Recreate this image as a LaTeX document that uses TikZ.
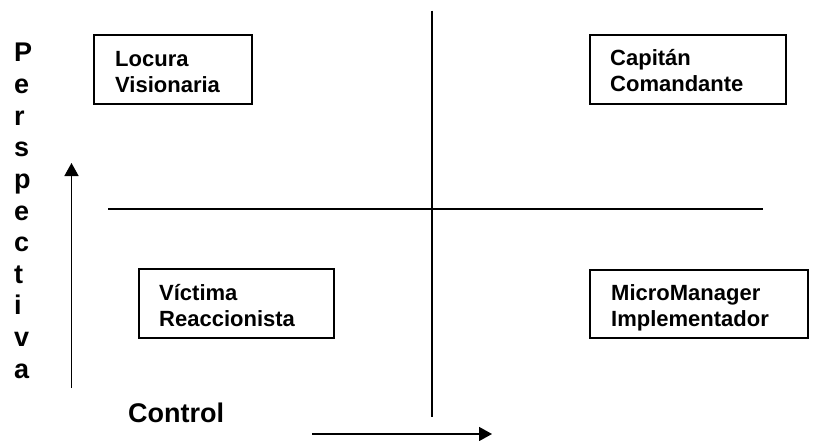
\documentclass[tikz,border=0pt]{standalone}
\usepackage{fontspec}
\setmainfont{Liberation Sans}
\usetikzlibrary{arrows.meta}
\tikzset{
  qbox/.style={draw, line width=1.6pt, rectangle, inner sep=0pt},
  qtext/.style={inner sep=0pt, align=left, font=\fontsize{22}{25.7}\selectfont\bfseries},
  axlabel/.style={inner sep=0pt, font=\fontsize{27}{30}\selectfont\bfseries},
  axline/.style={line width=1.6pt},
  axarrow/.style={line width=1.6pt, -{Triangle[length=13pt,width=14pt]}}
}
\begin{document}
\begin{tikzpicture}[x=1pt,y=-1pt]
\useasboundingbox (0,0) rectangle (819,441);
% quadrant lines
\coordinate (vtop) at (432,10.7);
\coordinate (vbot) at (432,417);
\coordinate (hl) at (108,208.7);
\coordinate (hr) at (763,208.7);
\draw[axline] (vtop) -- (vbot);
\draw[axline] (hl) -- (hr);
% axis arrows
\coordinate (upS) at (71.5,388);
\coordinate (upE) at (71.5,163);
\coordinate (rtS) at (312,434);
\coordinate (rtE) at (492,434);
\draw[axarrow] (upS) -- (upE);
\draw[axarrow] (rtS) -- (rtE);
% boxes
\node[qbox, minimum width=158pt, minimum height=69pt] (b1) at (173,69.5) {};
\node[qbox, minimum width=196pt, minimum height=69pt] (b2) at (688,69.5) {};
\node[qbox, minimum width=195pt, minimum height=69pt] (b3) at (236.5,303.5) {};
\node[qbox, minimum width=218pt, minimum height=68pt] (b4) at (699,304) {};
\node[qtext, anchor=base west] (t1) at (115,92.2) {Locura\\Visionaria};
\node[qtext, anchor=base west] (t2) at (610,91.7) {Capitán\\Comandante};
\node[qtext, anchor=base west] (t3) at (159,326) {Víctima\\Reaccionista};
\node[qtext, anchor=base west] (t4) at (611,326.5) {MicroManager\\Implementador};
% axis labels
\foreach \l [count=\i from 0] in {P,e,r,s,p,e,c,t,i,v,a}
  \node[axlabel, anchor=base west] (pl\i) at (14,62+31.6*\i) {\l};
\node[axlabel, anchor=base west] (ctl) at (128,422.7) {Control};
\end{tikzpicture}
\end{document}
